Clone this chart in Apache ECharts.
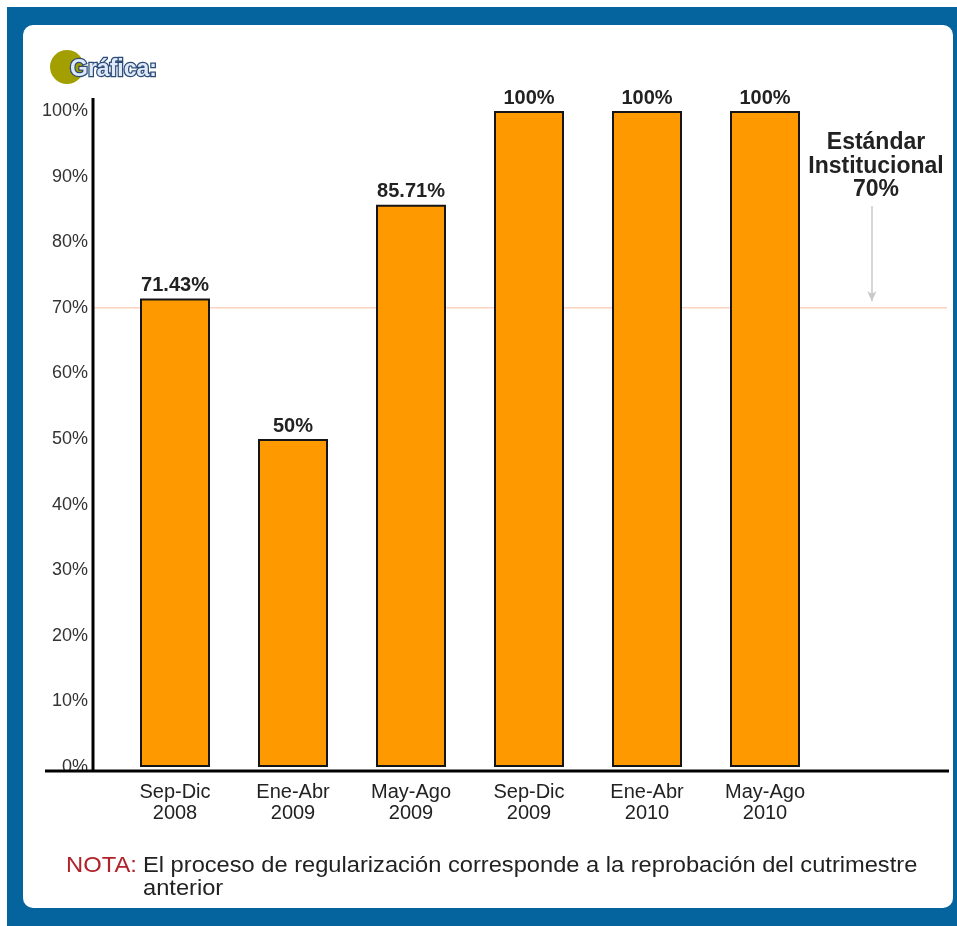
<!DOCTYPE html>
<html>
<head>
<meta charset="utf-8">
<script src="https://cdn.jsdelivr.net/npm/echarts@6/dist/echarts.min.js"></script>
<style>
  body { margin: 0; background: #fff; }
  #frame { position: absolute; left: 7px; top: 7px; width: 950px; height: 919px; background: #05639d; }
  #panel { position: absolute; left: 23px; top: 25px; width: 930px; height: 883px; background: #fff; border-radius: 10px; }
  #chart { position: absolute; left: 0; top: 0; width: 957px; height: 926px; }
</style>
</head>
<body>
<div id="frame"></div>
<div id="panel"></div>
<div id="chart"></div>
<script>
// periodos (cuatrimestres)
const periods = ['Sep-Dic\n2008', 'Ene-Abr\n2009', 'May-Ago\n2009', 'Sep-Dic\n2009', 'Ene-Abr\n2010', 'May-Ago\n2010']
// porcentaje de regularización
const values = [71.43, 50, 85.71, 100, 100, 100]
// estándar institucional
const standard = 70
const yTicks = [0, 10, 20, 30, 40, 50, 60, 70, 80, 90, 100]

const font = 'Liberation Sans, Arial, sans-serif'
const chart = echarts.init(document.getElementById('chart'), null, { renderer: 'canvas' })

const option = {
  animation: false,
  backgroundColor: 'transparent',
  grid: [
    { left: 116, right: 133, top: 111, bottom: 159 },
    { left: 93, right: 10, top: 111, bottom: 159 }
  ],
  xAxis: [
    {
      type: 'category',
      gridIndex: 0,
      data: periods,
      axisLine: { show: false },
      axisTick: { show: false },
      axisLabel: {
        margin: 15,
        fontFamily: font,
        fontSize: 20,
        lineHeight: 21,
        color: '#222'
      }
    },
    { type: 'value', gridIndex: 1, min: 0, max: 1, show: false }
  ],
  yAxis: [
    {
      type: 'value',
      gridIndex: 0,
      min: yTicks[0],
      max: yTicks[yTicks.length - 1],
      interval: 10,
      offset: 23,
      axisLine: { show: false },
      axisTick: { show: false },
      splitLine: { show: false },
      axisLabel: {
        margin: 5,
        formatter: '{value}%',
        fontFamily: font,
        fontSize: 18,
        color: '#333'
      }
    },
    { type: 'value', gridIndex: 1, min: 0, max: 100, show: false }
  ],
  series: [
    {
      type: 'line',
      xAxisIndex: 1,
      yAxisIndex: 1,
      data: [[0, standard], [1, standard]],
      symbol: 'none',
      silent: true,
      lineStyle: { color: '#ffd2bd', width: 1.5 },
      markLine: {
        silent: true,
        symbol: ['none', 'arrow'],
        symbolSize: [7, 10],
        label: { show: false },
        lineStyle: { color: '#c9c9c9', width: 1.5, type: 'solid' },
        data: [[{ coord: [0.912, 85.5] }, { coord: [0.912, standard + 1] }]]
      },
      z: 1
    },
    {
      type: 'bar',
      xAxisIndex: 0,
      yAxisIndex: 0,
      data: values,
      barWidth: 70,
      itemStyle: { color: '#ff9900', borderColor: '#151515', borderWidth: 2 },
      label: {
        show: true,
        position: 'top',
        distance: 3,
        formatter: '{c}%',
        fontFamily: font,
        fontSize: 20,
        fontWeight: 'bold',
        color: '#222'
      },
      z: 3
    }
  ],
  graphic: [
    // ejes
    { type: 'line', shape: { x1: 93, y1: 98, x2: 93, y2: 772 }, style: { stroke: '#000', lineWidth: 3 }, z: 10 },
    { type: 'line', shape: { x1: 45, y1: 771, x2: 949, y2: 771 }, style: { stroke: '#000', lineWidth: 3 }, z: 10 },
    // titulo
    { type: 'circle', shape: { cx: 67, cy: 67, r: 17 }, style: { fill: '#a39f00' }, z: 10 },
    {
      type: 'text', x: 70, y: 70, z: 11,
      style: {
        text: 'Gráfica:',
        font: 'bold 23px ' + font,
        fill: '#dfe9f7',
        stroke: '#2a4a78',
        lineWidth: 2.5,
        verticalAlign: 'middle',
        shadowColor: 'rgba(0,0,0,0.4)',
        shadowBlur: 6,
        shadowOffsetX: 3,
        shadowOffsetY: 3
      }
    },
    {
      type: 'text', x: 876, y: 131, z: 10,
      style: {
        text: 'Estándar\nInstitucional\n' + standard + '%',
        font: 'bold 23px ' + font,
        fill: '#222',
        align: 'center',
        lineHeight: 23.5
      }
    },
    {
      type: 'text', x: 66, y: 866, z: 10, scaleX: 1.08,
      style: { text: 'NOTA:', font: '22px ' + font, fill: '#b0232b', verticalAlign: 'middle' }
    },
    {
      type: 'text', x: 143, y: 866, z: 10, scaleX: 1.075,
      style: {
        text: 'El proceso de regularización corresponde a la reprobación del cutrimestre',
        font: '22px ' + font, fill: '#222', verticalAlign: 'middle'
      }
    },
    {
      type: 'text', x: 143, y: 889, z: 10, scaleX: 1.075,
      style: { text: 'anterior', font: '22px ' + font, fill: '#222', verticalAlign: 'middle' }
    }
  ]
}

chart.setOption(option)
</script>
</body>
</html>
